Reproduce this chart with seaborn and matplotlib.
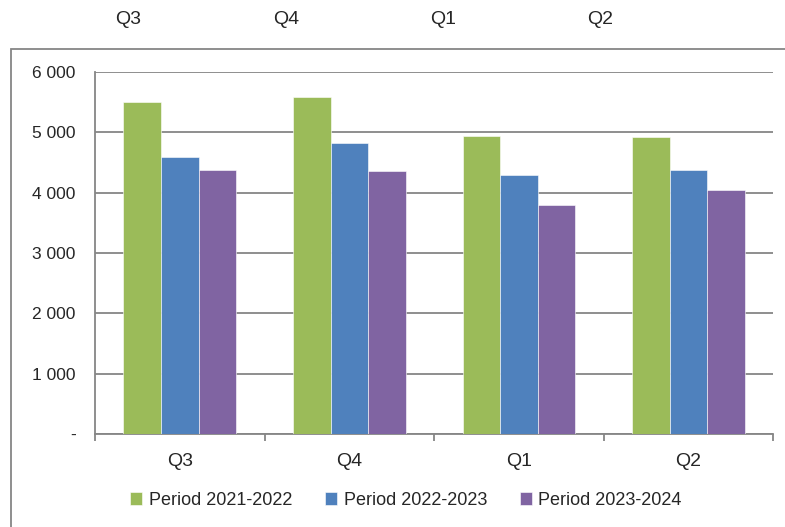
import numpy as np
import pandas as pd
import seaborn as sns
import matplotlib.pyplot as plt
from matplotlib import font_manager
from matplotlib.ticker import FuncFormatter, FixedLocator
from matplotlib.patches import Rectangle

# chart values
quarters = ['Q3', 'Q4', 'Q1', 'Q2']
periods = ['Period 2021-2022', 'Period 2022-2023', 'Period 2023-2024']
p2122 = [5500, 5590, 4940, 4925]
p2223 = [4590, 4820, 4300, 4370]
p2324 = [4370, 4360, 3790, 4040]
colors = ['#9BBB59', '#4F81BD', '#8064A2']
top_labels = ['Q3', 'Q4', 'Q1', 'Q2']

df = pd.DataFrame({
    'Quarter': quarters * 3,
    'Period': [periods[0]] * 4 + [periods[1]] * 4 + [periods[2]] * 4,
    'Value': p2122 + p2223 + p2324,
})

sns.set_style('white')
plt.rcParams['font.family'] = ['Liberation Sans', 'DejaVu Sans']

# narrow font for legend / category labels if there is one
try:
    font_manager.findfont('Liberation Sans Narrow', fallback_to_default=False)
    narrow, nsize, xsize = ['Liberation Sans Narrow', 'DejaVu Sans'], 15, 15
except Exception:
    narrow, nsize, xsize = ['Liberation Sans', 'DejaVu Sans'], 13, 14

fig = plt.figure(figsize=(7.85, 5.27), dpi=100)
ax = fig.add_axes([0.121, 0.1765, 0.864, 0.687])

sns.barplot(data=df, x='Quarter', y='Value', hue='Period', order=quarters,
            hue_order=periods, palette=colors, width=0.665, saturation=1,
            edgecolor='white', linewidth=0.4, ax=ax, zorder=3)

ax.set_ylim(0, 6000)
ax.set_xlim(-0.5, 3.5)
ax.set_yticks(range(0, 6001, 1000))
ax.yaxis.set_major_formatter(FuncFormatter(
    lambda v, p: '-' if v == 0 else f'{int(v):,}'.replace(',', ' ')))
ax.grid(axis='y', color='#868686', linewidth=1.3, zorder=0)
ax.set_axisbelow(True)
ax.set_xlabel('')
ax.set_ylabel('')

for s in ['top', 'right']:
    ax.spines[s].set_visible(False)
for s in ['left', 'bottom']:
    ax.spines[s].set_color('#868686')
    ax.spines[s].set_linewidth(1.3)

ax.tick_params(axis='y', length=4, color='#868686', width=1.3, labelsize=12.5, pad=10)
ax.tick_params(axis='x', which='major', length=0, pad=14)
ax.xaxis.set_minor_locator(FixedLocator(np.arange(-0.5, 3.6, 1.0)))
ax.tick_params(axis='x', which='minor', length=5, color='#868686', width=1.3,
               direction='out', bottom=True)
for t in ax.get_xticklabels():
    t.set_fontfamily(narrow)
    t.set_fontsize(xsize)

# legend below the plot
handles, labels = ax.get_legend_handles_labels()
ax.legend_.remove()
fig.legend(handles, labels, loc='center', bbox_to_anchor=(0.517, 0.051), ncol=3,
           frameon=False, prop={'family': narrow, 'size': nsize},
           handlelength=0.7, handleheight=0.7, handletextpad=0.35, columnspacing=1.8)

# quarter labels above the chart frame
for xp, lab in zip([128, 286, 443, 600], top_labels):
    fig.text(xp / 785, 1 - 20 / 527, lab, ha='center', va='center', fontsize=14)

# outer chart frame
fig.patches.append(Rectangle((11 / 785, -0.1), 1.2, 1 - 49 / 527 + 0.1,
                             transform=fig.transFigure, fill=False,
                             edgecolor='#868686', linewidth=1.3))

fig.savefig('out.png', dpi=100)
